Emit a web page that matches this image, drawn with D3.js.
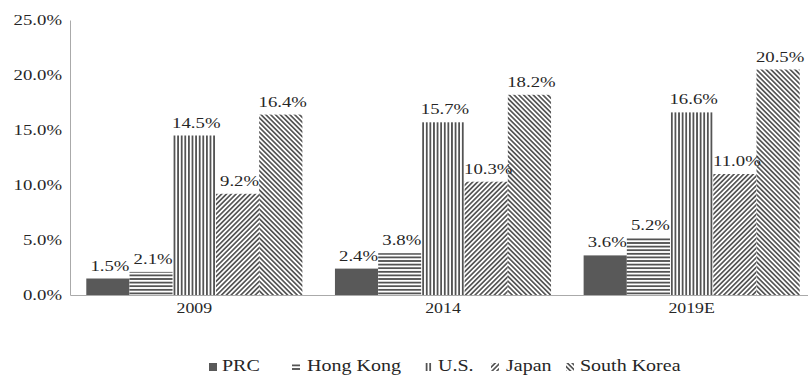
<!DOCTYPE html>
<html>
<head>
<meta charset="utf-8">
<script src="https://cdn.jsdelivr.net/npm/d3@7/dist/d3.min.js"></script>
<style>
  html, body { margin: 0; padding: 0; background: #fff; }
</style>
</head>
<body>
<svg id="chart" width="808" height="376"></svg>
<script>
// Growth share by market and year
const years = ["2009", "2014", "2019E"];
const markets = ["PRC", "Hong Kong", "U.S.", "Japan", "South Korea"];
const prc = [1.5, 2.4, 3.6];
const hongKong = [2.1, 3.8, 5.2];
const us = [14.5, 15.7, 16.6];
const japan = [9.2, 10.3, 11.0];
const southKorea = [16.4, 18.2, 20.5];
const yTicks = [0, 5, 10, 15, 20, 25];

const seriesValues = [prc, hongKong, us, japan, southKorea];
const fills = ["url(#solid)", "url(#hlines)", "url(#vlines)", "url(#fwd)", "url(#back)"];
const FONT = "'Liberation Serif', 'Times New Roman', serif";
const SX = 1.25; // horizontal text stretch

const svg = d3.select("#chart");
const margin = { left: 70, top: 20, bottom: 81 };
const H = 376;
const x0 = d3.scaleBand().domain(years).range([70, 816]).paddingInner(0.131).paddingOuter(0.0655);
const x1 = d3.scaleBand().domain(markets).range([0, x0.bandwidth()]);
const y = d3.scaleLinear().domain([0, 25]).range([H - margin.bottom, margin.top]);

function styleText(sel, size) {
  sel.style("font-family", FONT).style("font-size", size + "px").style("fill", "#262626");
}

// Fill patterns
const defs = svg.append("defs");
defs.append("pattern").attr("id", "solid").attr("patternUnits", "userSpaceOnUse")
  .attr("width", 4).attr("height", 4)
  .append("rect").attr("width", 4).attr("height", 4).attr("fill", "#595959");

function linePattern(id, size, rotate, width) {
  const p = defs.append("pattern").attr("id", id).attr("patternUnits", "userSpaceOnUse")
    .attr("width", size).attr("height", size);
  if (rotate) p.attr("patternTransform", `rotate(${rotate})`);
  p.append("rect").attr("width", size).attr("height", size).attr("fill", "#fff");
  p.append("line").attr("x1", size / 2).attr("x2", size / 2).attr("y1", -1).attr("y2", size + 1)
    .attr("stroke", "#111").attr("stroke-width", width);
}
linePattern("vlines", 3.6, 0, 1.3);
linePattern("hlines", 3.6, 90, 1.3);
linePattern("fwd", 3.4, 45, 1.2);
linePattern("back", 3.4, -45, 1.2);

// Axes
const yAxis = svg.append("g").attr("transform", `translate(${margin.left},0)`)
  .call(d3.axisLeft(y).tickValues(yTicks).tickSize(0).tickFormat(d => d3.format(".1f")(d) + "%"));
yAxis.select(".domain").attr("stroke", "#aaa");
yAxis.selectAll("text").attr("x", -8 / SX).attr("dy", "0.33em")
  .attr("transform", `scale(${SX},1)`).call(styleText, 15);

const xAxis = svg.append("g").attr("transform", `translate(0,${y(0)})`)
  .call(d3.axisBottom(x0).tickSize(0));
xAxis.select(".domain").attr("stroke", "#aaa");
xAxis.selectAll("text").attr("y", 18).attr("dy", 0)
  .attr("transform", `scale(${SX * 0.95},1)`).call(styleText, 15);

// Bars
const groups = svg.append("g").selectAll("g").data(years).join("g")
  .attr("transform", d => `translate(${x0(d)},0)`);

groups.each(function (yr, yi) {
  const g = d3.select(this);
  markets.forEach((m, mi) => {
    const v = seriesValues[mi][yi];
    g.append("rect")
      .attr("x", x1(m)).attr("width", x1.bandwidth())
      .attr("y", y(v)).attr("height", y(0) - y(v))
      .attr("fill", fills[mi]);
  });
});

// Value labels
years.forEach((yr, yi) => {
  markets.forEach((m, mi) => {
    const v = seriesValues[mi][yi];
    const cx = x0(yr) + x1(m) + x1.bandwidth() / 2 + 2;
    svg.append("text")
      .attr("transform", `translate(${cx},${y(v) - 8}) scale(${SX},1)`)
      .attr("text-anchor", "middle").call(styleText, 15)
      .text(d3.format(".1f")(v) + "%");
  });
});

// Legend
const legendItems = [
  { icon: 209, text: 222 },
  { icon: 292, text: 307 },
  { icon: 424, text: 438 },
  { icon: 491, text: 506 },
  { icon: 566, text: 580 }
];
const legend = svg.append("g");
markets.forEach((m, i) => {
  const it = legendItems[i];
  legend.append("rect").attr("x", it.icon).attr("y", 363).attr("width", 8).attr("height", 8)
    .attr("fill", fills[i]);
  legend.append("text")
    .attr("transform", `translate(${it.text},371) scale(${SX},1)`)
    .call(styleText, 16).text(m);
});
</script>
</body>
</html>
